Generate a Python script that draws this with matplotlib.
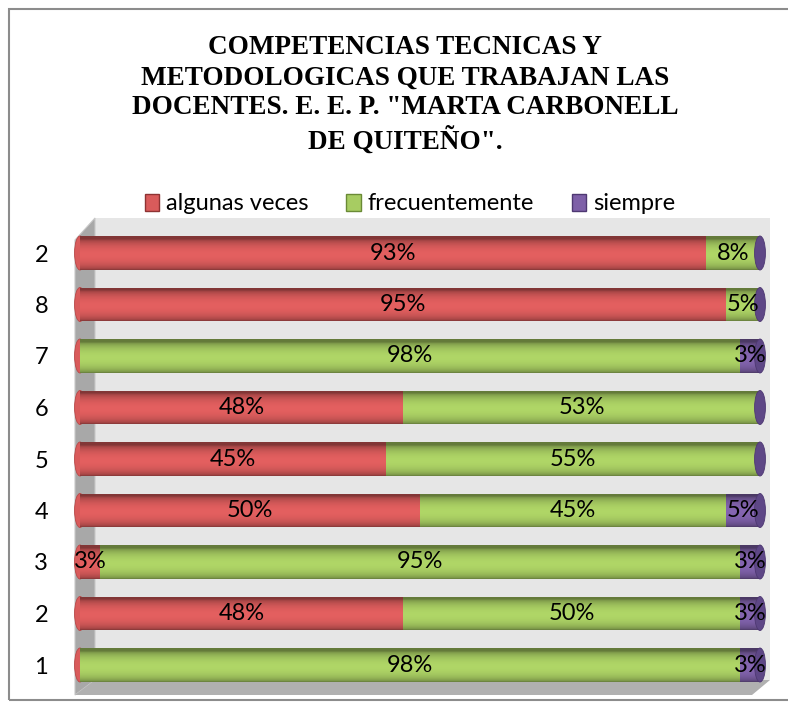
import numpy as np
import matplotlib
matplotlib.use("Agg")
import matplotlib.pyplot as plt
from matplotlib.patches import Rectangle, Polygon, Ellipse

categories = ["1", "2", "3", "4", "5", "6", "7", "8", "2"]
algunas_veces = [0, 48, 3, 50, 45, 48, 0, 95, 93]
frecuentemente = [98, 50, 95, 45, 55, 53, 98, 5, 8]
siempre = [3, 3, 3, 5, 0, 0, 3, 0, 0]
series_names = ["algunas veces", "frecuentemente", "siempre"]
series_colors = ["#D95B5B", "#A7CC62", "#7E60A8"]
series_dark = ["#8E3333", "#6A8A36", "#4E3872"]
title = 'COMPETENCIAS TECNICAS Y\nMETODOLOGICAS QUE TRABAJAN LAS\nDOCENTES. E. E. P. "MARTA CARBONELL\nDE QUITEÑO".'

FONT = "Lato"
FS = 17

W, H = 788, 709
fig = plt.figure(figsize=(W / 100, H / 100), dpi=100)
fig.patch.set_facecolor("white")

def fx(x):
    return x / W

def fy(y):
    return 1 - y / H

# outer chart border
fig.add_artist(Rectangle((fx(9), fy(700)), fx(790) - fx(9), fy(9) - fy(700), zorder=-3,
                         transform=fig.transFigure, fill=False, edgecolor="#8C8C8C", lw=1.5))
# back wall
fig.add_artist(Rectangle((fx(95), fy(680)), fx(770) - fx(95), fy(218) - fy(680), zorder=-3,
                         transform=fig.transFigure, facecolor="#E6E6E6", edgecolor="none"))
# side wall
fig.add_artist(Polygon([(fx(75), fy(240)), (fx(95), fy(218)), (fx(95), fy(680)), (fx(75), fy(695))],
                       closed=True, transform=fig.transFigure, facecolor="#A8A8A8", edgecolor="#C8C8C8",
                       lw=0.8, zorder=-3))
# floor
fig.add_artist(Polygon([(fx(75), fy(695)), (fx(95), fy(680)), (fx(770), fy(680)), (fx(752), fy(695))],
                       closed=True, transform=fig.transFigure, facecolor="#B0B0B0", edgecolor="none", zorder=-3))

ax = fig.add_axes([fx(80), fy(690.75), (760 - 80) / W, (690.75 - 227.25) / H])
ax.set_facecolor("none")
ax.patch.set_visible(False)
for s in ax.spines.values():
    s.set_visible(False)

data = np.array([algunas_veces, frecuentemente, siempre], dtype=float)
totals = data.sum(axis=0)
norm = data / totals * 100
bar_h = 0.66
ypos = np.arange(len(categories))

# vertical gradient to fake cylinder shading
grad = np.linspace(0, 1, 64)
shade = 0.6 + 0.45 * np.sin(np.clip(grad * 1.1, 0, 1) * np.pi) ** 0.5

left = np.zeros(len(categories))
for i in range(3):
    bars = ax.barh(ypos, norm[i], left=left, height=bar_h, color=series_colors[i],
                   edgecolor="none", zorder=2)
    base = np.array(matplotlib.colors.to_rgb(series_colors[i]))
    img = np.clip(shade[:, None, None] * base[None, None, :] * np.ones((64, 2, 3)), 0, 1)
    for b in bars:
        if b.get_width() <= 0:
            continue
        x0, y0 = b.get_x(), b.get_y()
        im = ax.imshow(img, extent=[x0, x0 + b.get_width(), y0, y0 + b.get_height()],
                       aspect="auto", origin="lower", zorder=3, interpolation="bilinear")
        im.set_clip_path(b)
    for j, v in enumerate(data[i]):
        if v > 0:
            ax.text(left[j] + norm[i][j] / 2, ypos[j], f"{int(v)}%", ha="center", va="center",
                    fontsize=FS, family=FONT, color="black", zorder=6)
    left = left + norm[i]

# cylinder end caps (top of last series) and left caps (first series)
for j in range(len(categories)):
    ax.add_patch(Ellipse((left[j], ypos[j]), width=1.6, height=bar_h, facecolor="#5E4786",
                         edgecolor="#4E3872", lw=0.6, zorder=5, clip_on=False))
    ax.add_patch(Ellipse((0, ypos[j]), width=1.6, height=bar_h, facecolor=series_colors[0],
                         edgecolor="#B84848", lw=0.6, zorder=1, clip_on=False))

ax.set_xlim(0, 100)
ax.set_ylim(-0.5, len(categories) - 0.5)
ax.set_xticks([])
ax.set_yticks(ypos)
ax.set_yticklabels(categories, fontsize=FS, family=FONT)
ax.tick_params(axis="y", length=0, pad=23)

fig.text(fx(405), fy(95), title, ha="center", va="center", fontsize=19.5, family="Liberation Serif",
         fontweight="bold", linespacing=1.27)

handles = [Rectangle((0, 0), 1, 1, facecolor=c, edgecolor=d, lw=1) for c, d in zip(series_colors, series_dark)]
fig.legend(handles, series_names, loc="center", bbox_to_anchor=(fx(410), fy(204)), ncol=3, frameon=False,
           prop={"family": FONT, "size": FS}, handlelength=0.6, handleheight=0.7,
           handletextpad=0.3, columnspacing=1.6)

fig.savefig("out.png", dpi=100)
